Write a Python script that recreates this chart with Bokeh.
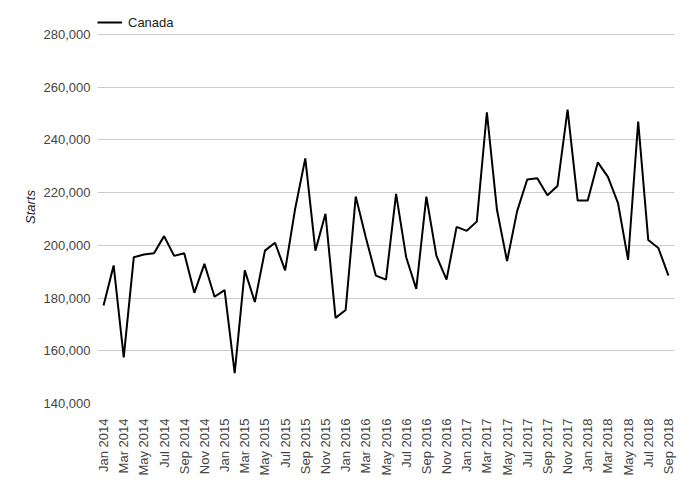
import math
from bokeh.plotting import figure
from bokeh.models import ColumnDataSource, FixedTicker, Legend, LegendItem, NumeralTickFormatter, Range1d
from bokeh.embed import file_html
from bokeh.resources import INLINE

months = ["Jan", "Feb", "Mar", "Apr", "May", "Jun", "Jul", "Aug", "Sep", "Oct", "Nov", "Dec"]
years = [2014, 2015, 2016, 2017, 2018]
labels = [f"{m} {y}" for y in years for m in months][:57]

starts = [
    177200, 192400, 157500, 195500, 196500, 197000, 203500, 196000, 197000, 182000, 193000, 180500,
    183000, 151500, 190500, 178500, 198000, 201000, 190500, 214000, 233000, 198000, 212000, 172500,
    175500, 218500, 203000, 188500, 187000, 219500, 195500, 183500, 218500, 196000, 187000, 207000,
    205500, 209000, 250500, 213500, 194000, 213000, 225000, 225500, 219000, 222500, 251500, 217000,
    217000, 231500, 226000, 216000, 194500, 247000, 202000, 199000, 188500,
]
y_ticks = [140000, 160000, 180000, 200000, 220000, 240000, 260000, 280000]

idx = list(range(len(starts)))
src = ColumnDataSource(dict(x=idx, y=starts))

FONT = "Liberation Sans"

# frame: 393px tall; lowest tick at bottom, 280,000 gridline 24px below the top
Y0, Y1 = 140000, 280000
y_top = Y0 + (Y1 - Y0) * 393 / 369

p = figure(width=683, height=478, output_backend="svg", toolbar_location=None,
           x_range=Range1d(-0.6, len(starts) - 1 + 0.6), y_range=Range1d(Y0, y_top),
           min_border_left=97, min_border_right=9, min_border_top=10, min_border_bottom=75)
p.outline_line_color = None
p.background_fill_color = "white"

r = p.line("x", "y", source=src, line_color="black", line_width=2)

p.xaxis.ticker = FixedTicker(ticks=idx[::2])
p.xaxis.major_label_overrides = {i: labels[i] for i in idx}
p.xaxis.major_label_orientation = math.pi / 2
p.yaxis.ticker = FixedTicker(ticks=y_ticks)
p.yaxis.formatter = NumeralTickFormatter(format="0,0")

for ax in (p.xaxis, p.yaxis):
    ax.axis_line_color = None
    ax.major_tick_line_color = None
    ax.minor_tick_line_color = None
    ax.major_tick_out = 0
    ax.major_label_text_font = FONT
    ax.major_label_text_font_size = "13px"
    ax.major_label_text_color = "#444444"

p.xaxis.major_label_standoff = 15
p.yaxis.major_label_standoff = 7
p.yaxis.axis_label = "Starts"
p.yaxis.axis_label_text_font = FONT
p.yaxis.axis_label_text_font_style = "italic"
p.yaxis.axis_label_text_font_size = "13px"
p.yaxis.axis_label_text_color = "#222222"
p.yaxis.axis_label_standoff = 3

p.xgrid.grid_line_color = None
p.ygrid.ticker = FixedTicker(ticks=y_ticks)
p.ygrid.grid_line_color = "#cccccc"
p.ygrid.grid_line_width = 1

legend = Legend(items=[LegendItem(label="Canada", renderers=[r])],
                location=(0, 371), orientation="horizontal",
                padding=0, margin=0, glyph_width=25, glyph_height=20, label_height=20,
                label_standoff=6, border_line_color=None, background_fill_alpha=0,
                label_text_font=FONT, label_text_font_size="13px", label_text_color="#222222")
p.add_layout(legend, "center")

open("out.html", "w").write(file_html(p, INLINE))
